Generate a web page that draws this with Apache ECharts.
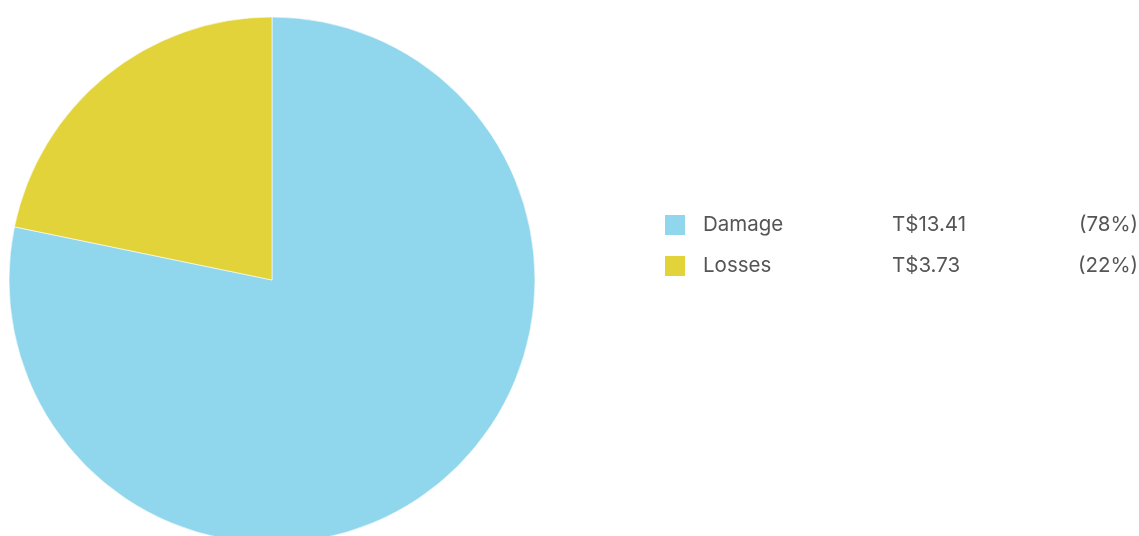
<!DOCTYPE html>
<html>
<head>
<meta charset="utf-8">
<script src="https://cdn.jsdelivr.net/npm/echarts@6/dist/echarts.min.js"></script>
<style>
  html, body { margin: 0; padding: 0; background: #ffffff; }
  #chart { width: 1139px; height: 536px; }
</style>
</head>
<body>
<div id="chart"></div>
<script>
// Categories and amounts (trillions, T$)
const categories = ['Damage', 'Losses'];
const amounts = [13.41, 3.73];
const colors = ['#90d6ec', '#e1d339'];

const total = amounts.reduce((a, b) => a + b, 0);
const valueText = {};
const pctText = {};
categories.forEach((c, i) => {
  valueText[c] = 'T$' + amounts[i].toFixed(2);
  pctText[c] = '(' + Math.round(amounts[i] / total * 100) + '%)';
});

const chart = echarts.init(document.getElementById('chart'), null, { renderer: 'canvas' });
const fontFamily = 'Inter, "Liberation Sans", sans-serif';
const textBase = { fontSize: 20.5, lineHeight: 21, color: '#555555', fontFamily: fontFamily };

chart.setOption({
  animation: false,
  color: colors,
  legend: {
    orient: 'vertical',
    left: 663,
    top: 213,
    padding: 0,
    itemWidth: 22,
    itemHeight: 22,
    itemGap: 17,
    icon: 'rect',
    selectedMode: false,
    data: categories,
    formatter: function (name) {
      return '{n|' + name + '}{v|' + valueText[name] + '}{p|' + pctText[name] + '}';
    },
    textStyle: Object.assign({}, textBase, {
      rich: {
        n: Object.assign({ width: 189, padding: [0, 0, 0, 12] }, textBase),
        v: Object.assign({ width: 150 }, textBase),
        p: Object.assign({ width: 96, align: 'right' }, textBase)
      }
    })
  },
  series: [{
    type: 'pie',
    center: [272, 280],
    radius: 263,
    startAngle: 90,
    clockwise: true,
    label: { show: false },
    labelLine: { show: false },
    emphasis: { disabled: true },
    itemStyle: { borderColor: '#ffffff', borderWidth: 0.6 },
    data: categories.map((c, i) => ({ name: c, value: amounts[i] }))
  }]
});
</script>
</body>
</html>
